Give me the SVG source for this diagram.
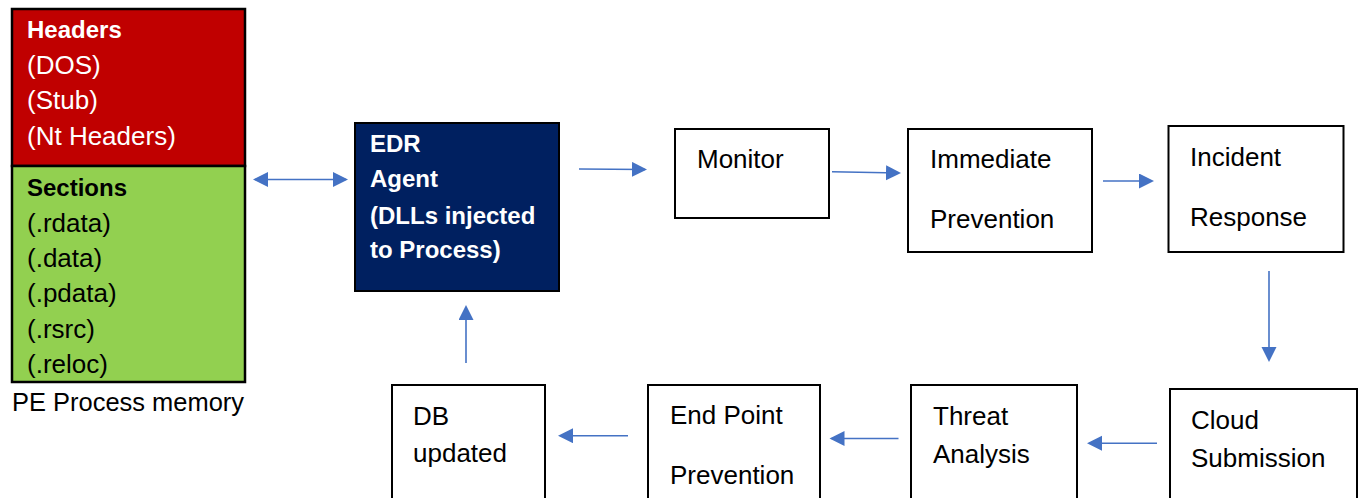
<svg xmlns="http://www.w3.org/2000/svg" width="1361" height="498" viewBox="0 0 1361 498">
<style>
text{font-family:"Liberation Sans",Arial,sans-serif;font-size:26px;}
.b{font-weight:bold;font-size:24px;}
.cap{font-size:25.5px;}
.w{fill:#ffffff;}
.k{fill:#000000;}
.box{fill:#ffffff;stroke:#000000;stroke-width:2;}
.con{stroke:#4472C4;stroke-width:1.6;fill:none;}
</style>
<defs>
<marker id="ah" markerUnits="userSpaceOnUse" markerWidth="16" markerHeight="16" viewBox="0 0 16 16" refX="13" refY="7.5" orient="auto-start-reverse">
<path d="M0,0 L15,7.5 L0,15 z" fill="#4472C4"/>
</marker>
</defs>
<rect width="1361" height="498" fill="#ffffff"/>
<g id="pe-memory">
<rect x="12" y="9" width="233" height="157" fill="#C00000" stroke="#000" stroke-width="2.5"/>
<rect x="12" y="166" width="233" height="216" fill="#92D050" stroke="#000" stroke-width="2.5"/>
<text x="27" y="38" class="b w">Headers</text>
<text x="27" y="74" class="w">(DOS)</text>
<text x="27" y="109" class="w">(Stub)</text>
<text x="27" y="145" class="w">(Nt Headers)</text>
<text x="27" y="196" class="b k">Sections</text>
<text x="27" y="232" class="k">(.rdata)</text>
<text x="27" y="267" class="k">(.data)</text>
<text x="27" y="302" class="k">(.pdata)</text>
<text x="27" y="338" class="k">(.rsrc)</text>
<text x="27" y="373" class="k">(.reloc)</text>
<text x="12" y="411" class="k cap" textLength="232" lengthAdjust="spacingAndGlyphs">PE Process memory</text>
</g>
<g id="edr-agent">
<rect x="355" y="123" width="204" height="168" fill="#002060" stroke="#000" stroke-width="2"/>
<text x="370" y="152" class="b w">EDR</text>
<text x="370" y="187" class="b w">Agent</text>
<text x="370" y="224" class="b w">(DLLs injected</text>
<text x="370" y="258" class="b w">to Process)</text>
</g>
<g id="monitor">
<rect x="675" y="129" width="154" height="89" class="box"/>
<text x="697" y="168" class="k">Monitor</text>
</g>
<g id="immediate-prevention">
<rect x="908" y="129" width="184" height="123" class="box"/>
<text x="930" y="168" class="k">Immediate</text>
<text x="930" y="228" class="k">Prevention</text>
</g>
<g id="incident-response">
<rect x="1168.5" y="126" width="175" height="126" class="box"/>
<text x="1190" y="166" class="k">Incident</text>
<text x="1190" y="226" class="k">Response</text>
</g>
<g id="cloud-submission">
<rect x="1170" y="389" width="187" height="118" class="box"/>
<text x="1191" y="429" class="k">Cloud</text>
<text x="1191" y="467" class="k">Submission</text>
</g>
<g id="threat-analysis">
<rect x="911" y="385" width="166" height="122" class="box"/>
<text x="933" y="425" class="k">Threat</text>
<text x="933" y="463" class="k">Analysis</text>
</g>
<g id="end-point-prevention">
<rect x="648" y="385" width="172" height="122" class="box"/>
<text x="670" y="424" class="k">End Point</text>
<text x="670" y="484" class="k">Prevention</text>
</g>
<g id="db-updated">
<rect x="392" y="385" width="153" height="122" class="box"/>
<text x="413" y="425" class="k">DB</text>
<text x="413" y="462" class="k">updated</text>
</g>
<g id="connectors">
<line x1="255" y1="179.5" x2="346" y2="179.5" class="con" marker-start="url(#ah)" marker-end="url(#ah)"/>
<line x1="579" y1="169" x2="645" y2="169.5" class="con" marker-end="url(#ah)"/>
<line x1="832" y1="171.7" x2="899" y2="173" class="con" marker-end="url(#ah)"/>
<line x1="1103" y1="181" x2="1152" y2="181" class="con" marker-end="url(#ah)"/>
<line x1="1269" y1="271" x2="1269" y2="360" class="con" marker-end="url(#ah)"/>
<line x1="1157" y1="443.3" x2="1089" y2="443.3" class="con" marker-end="url(#ah)"/>
<line x1="898.5" y1="438.5" x2="831.5" y2="438.5" class="con" marker-end="url(#ah)"/>
<line x1="628" y1="435.7" x2="560" y2="435.7" class="con" marker-end="url(#ah)"/>
<line x1="466" y1="363" x2="466" y2="307" class="con" marker-end="url(#ah)"/>
</g>
</svg>
